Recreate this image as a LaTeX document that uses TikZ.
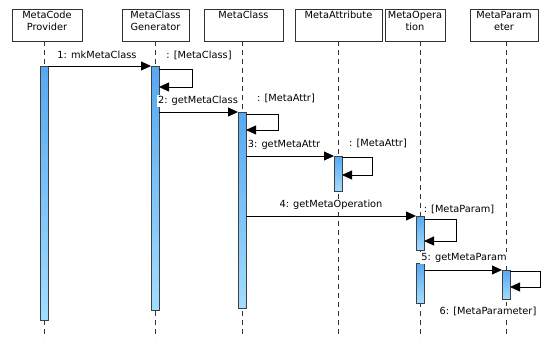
\documentclass[tikz,border=0pt]{standalone}
\usepackage{fontspec}
\setmainfont{DejaVu Sans}
\usetikzlibrary{arrows.meta}
\definecolor{bartop}{HTML}{55A8F2}
\definecolor{barbot}{HTML}{A2DDFF}
\tikzset{
  objbox/.style={draw=black!80, fill=white, line width=0.7pt, align=center, inner sep=0pt},
  lifeline/.style={draw=black!80, line width=0.7pt, dash pattern=on 5pt off 4pt},
  actbar/.style={draw=black!75, line width=0.7pt, top color=bartop, bottom color=barbot},
  msg/.style={draw=black, line width=0.8pt, -{Triangle[length=10pt,width=9pt]}},
  lbl/.style={fill=white, inner sep=1pt, font=\fontsize{9.8}{11}\selectfont},
  boxtxt/.style={font=\fontsize{9.8}{12}\selectfont, align=center}
}
\begin{document}
\begin{tikzpicture}[x=1pt,y=-1pt]
\useasboundingbox (0,0) rectangle (541,338);
% object boxes
\foreach \n/\xa/\xb/\t in {o1/12/82/{MetaCode\\Provider}, o2/122/189/{MetaClass\\Generator}, o3/204/283/{MetaClass}, o4/295/382/{MetaAttribute}, o5/385/445/{MetaOpera\\tion}, o6/470/538/{MetaParam\\eter}}{
  \path[objbox] (\xa,9) rectangle (\xb,41);
  \node[boxtxt, anchor=north, inner sep=0pt] (\n) at ({(\xa+\xb)/2},11) {\t};
}
% lifelines
\foreach \n/\x in {l1/44, l2/155, l3/242, l4/338, l5/420, l6/506}{
  \coordinate (\n t) at (\x,41);
  \coordinate (\n b) at (\x,338);
  \draw[lifeline] (\n t) -- (\n b);
}
% activation bars
\path[actbar] (40,66) rectangle (48,320);
\path[actbar] (151,66) rectangle (159,310);
\path[actbar] (238,112) rectangle (246,308);
\path[actbar] (334,156) rectangle (342,191);
\path[actbar] (416,216) rectangle (424,250);
\path[actbar] (416,263) rectangle (424,303);
\path[actbar] (502,270) rectangle (510,299);
% coordinates for messages
\coordinate (m1s) at (48,66);  \coordinate (m1e) at (151,66);
\coordinate (s1a) at (159,69); \coordinate (s1b) at (192,69); \coordinate (s1c) at (192,87); \coordinate (s1d) at (159,87);
\coordinate (m2s) at (159,112); \coordinate (m2e) at (238,112);
\coordinate (s2a) at (246,114); \coordinate (s2b) at (278,114); \coordinate (s2c) at (278,130); \coordinate (s2d) at (246,130);
\coordinate (m3s) at (246,156); \coordinate (m3e) at (334,156);
\coordinate (s3a) at (342,157); \coordinate (s3b) at (372,157); \coordinate (s3c) at (372,175); \coordinate (s3d) at (342,175);
\coordinate (m4s) at (246,216); \coordinate (m4e) at (416,216);
\coordinate (s4a) at (424,219); \coordinate (s4b) at (456,219); \coordinate (s4c) at (456,241); \coordinate (s4d) at (424,241);
\coordinate (m5s) at (424,270); \coordinate (m5e) at (502,270);
\coordinate (s5a) at (510,271); \coordinate (s5b) at (540,271); \coordinate (s5c) at (540,287); \coordinate (s5d) at (510,287);
% messages
\draw[msg] (m1s) -- (m1e);
\draw[msg] (s1a) -- (s1b) -- (s1c) -- (s1d);
\draw[msg] (m2s) -- (m2e);
\draw[msg] (s2a) -- (s2b) -- (s2c) -- (s2d);
\draw[msg] (m3s) -- (m3e);
\draw[msg] (s3a) -- (s3b) -- (s3c) -- (s3d);
\draw[msg] (m4s) -- (m4e);
\draw[msg] (s4a) -- (s4b) -- (s4c) -- (s4d);
\draw[msg] (m5s) -- (m5e);
\draw[msg] (s5a) -- (s5b) -- (s5c) -- (s5d);
% labels
\node[lbl] (t1) at (97,55) {1: mkMetaClass};
\node[lbl] (t1r) at (199,55) {: [MetaClass]};
\node[lbl] (t2) at (198,101) {2: getMetaClass};
\node[lbl] (t2r) at (286,98) {: [MetaAttr]};
\node[lbl] (t3) at (284,145) {3: getMetaAttr};
\node[lbl] (t3r) at (378,143) {: [MetaAttr]};
\node[lbl] (t4) at (331,205) {4: getMetaOperation};
\node[lbl] (t4r) at (459,209) {: [MetaParam]};
\node[lbl] (t5) at (464,258) {5: getMetaParam};
\node[lbl] (t6) at (488,311) {6: [MetaParameter]};
\end{tikzpicture}
\end{document}
